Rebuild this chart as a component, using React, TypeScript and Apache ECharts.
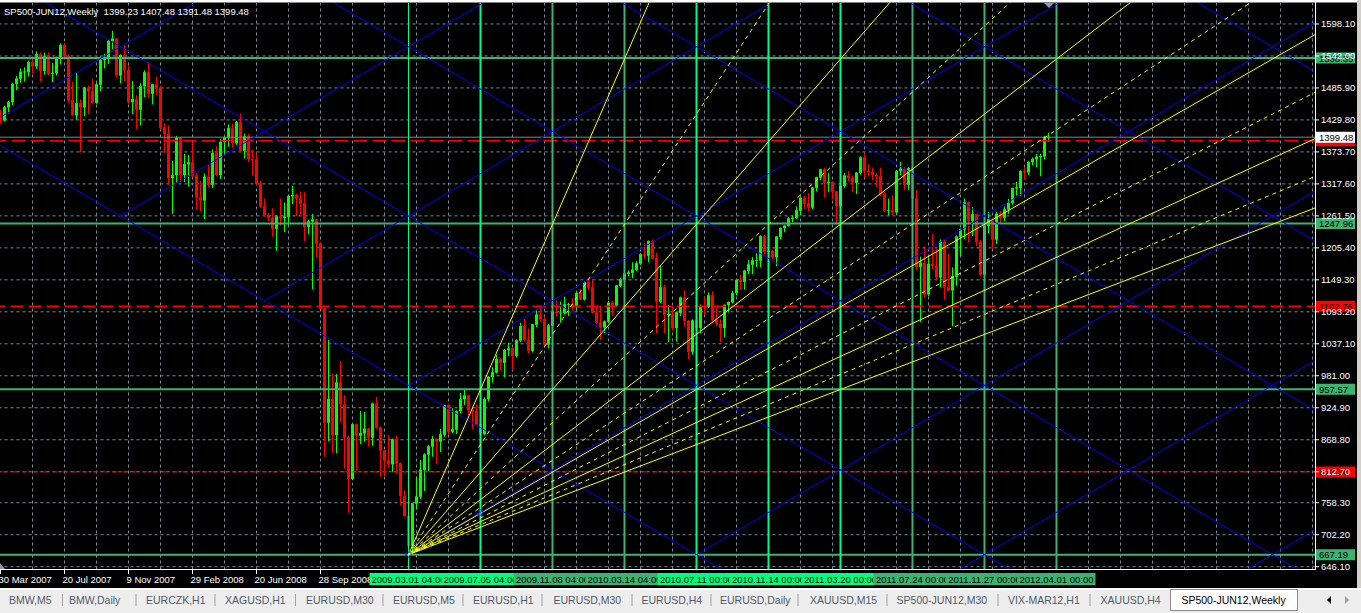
import React, { useEffect, useRef } from "react";
import * as echarts from "echarts";

// ---------- DATA (weekly bars, SP500 futures) ----------
const firstOpen = 1437;
const weeklyClose = [
  1429, 1452, 1461, 1493, 1502, 1514, 1514, 1531, 1524, 1545,
  1516, 1541, 1511, 1512, 1539, 1561, 1542, 1464, 1438, 1459,
  1452, 1486, 1480, 1460, 1492, 1535, 1537, 1568, 1572, 1508,
  1543, 1517, 1461, 1466, 1448, 1489, 1513, 1476, 1492, 1486,
  1416, 1405, 1328, 1333, 1398, 1333, 1352, 1355, 1332, 1294,
  1289, 1330, 1316, 1371, 1333, 1391, 1399, 1415, 1389, 1426,
  1376, 1401, 1361, 1360, 1318, 1278, 1263, 1258, 1239, 1260,
  1258, 1260, 1296, 1298, 1292, 1283, 1242, 1252, 1255, 1213,
  1099, 899, 940, 877, 969, 931, 873, 800, 896, 876,
  880, 888, 873, 932, 890, 850, 832, 826, 869, 827,
  770, 735, 683, 757, 769, 816, 843, 857, 870, 866,
  878, 929, 883, 887, 919, 940, 946, 921, 919, 896,
  879, 940, 979, 987, 1010, 1004, 1026, 1029, 1016, 1043,
  1068, 1044, 1025, 1071, 1088, 1080, 1036, 1069, 1093, 1091,
  1091, 1106, 1106, 1102, 1126, 1115, 1145, 1136, 1092, 1074,
  1066, 1076, 1109, 1104, 1139, 1150, 1160, 1162, 1167, 1178,
  1194, 1192, 1217, 1187, 1111, 1136, 1088, 1089, 1065, 1092,
  1118, 1077, 1023, 1078, 1065, 1103, 1102, 1122, 1079, 1072,
  1065, 1105, 1110, 1126, 1149, 1146, 1165, 1176, 1183, 1183,
  1226, 1199, 1200, 1189, 1225, 1240, 1244, 1257, 1258, 1271,
  1293, 1283, 1276, 1311, 1329, 1343, 1320, 1321, 1304, 1279,
  1314, 1332, 1328, 1320, 1337, 1364, 1340, 1338, 1333, 1331,
  1300, 1271, 1271, 1268, 1340, 1344, 1316, 1345, 1292, 1172,
  1179, 1124, 1177, 1174, 1154, 1216, 1136, 1131, 1155, 1225,
  1238, 1285, 1253, 1264, 1216, 1159, 1244, 1255, 1220, 1265,
  1258, 1273, 1284, 1310, 1311, 1340, 1338, 1356, 1361, 1365,
  1366, 1399.23, 1399.48,
];
const weeklyHigh = [
  1447, 1455, 1463, 1495, 1507, 1520, 1522, 1534, 1540, 1550,
  1548, 1548, 1548, 1530, 1541, 1564, 1565, 1545, 1496, 1512,
  1466, 1488, 1490, 1502, 1495, 1541, 1546, 1570, 1586, 1574,
  1545, 1561, 1525, 1498, 1473, 1494, 1517, 1531, 1493, 1506,
  1490, 1424, 1420, 1358, 1402, 1400, 1370, 1368, 1391, 1336,
  1323, 1336, 1352, 1378, 1383, 1396, 1402, 1422, 1423, 1428,
  1441, 1406, 1405, 1378, 1371, 1323, 1292, 1266, 1275, 1263,
  1292, 1285, 1298, 1314, 1300, 1304, 1303, 1255, 1265, 1256,
  1215, 1100, 1044, 985, 984, 1007, 947, 876, 897, 897,
  919, 918, 890, 934, 944, 892, 852, 877, 871, 876,
  829, 780, 737, 758, 804, 833, 845, 860, 875, 871,
  888, 930, 931, 924, 920, 951, 956, 948, 925, 931,
  898, 943, 980, 996, 1018, 1013, 1028, 1039, 1031, 1045,
  1074, 1081, 1064, 1072, 1097, 1101, 1085, 1072, 1101, 1113,
  1111, 1120, 1109, 1117, 1128, 1133, 1147, 1150, 1150, 1103,
  1104, 1078, 1112, 1113, 1140, 1153, 1170, 1166, 1180, 1182,
  1196, 1214, 1218, 1220, 1197, 1174, 1141, 1105, 1105, 1093,
  1120, 1131, 1079, 1080, 1099, 1106, 1120, 1127, 1129, 1100,
  1080, 1106, 1111, 1130, 1150, 1158, 1167, 1184, 1189, 1196,
  1227, 1228, 1205, 1202, 1226, 1241, 1246, 1259, 1262, 1278,
  1294, 1297, 1301, 1312, 1330, 1344, 1346, 1337, 1323, 1305,
  1315, 1337, 1340, 1332, 1338, 1366, 1371, 1352, 1346, 1336,
  1346, 1303, 1292, 1298, 1342, 1356, 1347, 1347, 1347, 1307,
  1190, 1208, 1190, 1230, 1204, 1220, 1220, 1195, 1171, 1227,
  1239, 1292, 1287, 1277, 1265, 1219, 1255, 1268, 1258, 1268,
  1270, 1278, 1291, 1311, 1321, 1341, 1347, 1357, 1364, 1370,
  1370, 1402, 1407.48,
];
const weeklyLow = [
  1424, 1427, 1441, 1456, 1482, 1495, 1497, 1506, 1512, 1519,
  1498, 1509, 1508, 1496, 1508, 1527, 1538, 1460, 1437, 1430,
  1373, 1436, 1440, 1458, 1458, 1480, 1520, 1528, 1554, 1505,
  1494, 1497, 1458, 1440, 1414, 1420, 1470, 1469, 1457, 1474,
  1413, 1372, 1316, 1265, 1320, 1321, 1321, 1313, 1329, 1273,
  1269, 1256, 1311, 1310, 1331, 1326, 1370, 1383, 1381, 1386,
  1373, 1362, 1356, 1332, 1316, 1275, 1260, 1252, 1225, 1200,
  1244, 1233, 1246, 1282, 1261, 1262, 1217, 1229, 1133, 1188,
  1098, 839, 866, 846, 845, 899, 818, 741, 798, 815,
  861, 866, 857, 858, 888, 804, 805, 820, 812, 809,
  754, 734, 667.19, 672, 747, 765, 779, 814, 839, 826,
  847, 874, 878, 880, 879, 915, 930, 912, 888, 895,
  869, 876, 936, 969, 985, 990, 978, 1016, 991, 1013,
  1040, 1041, 1020, 1022, 1066, 1075, 1030, 1029, 1067, 1085,
  1074, 1088, 1086, 1095, 1097, 1114, 1113, 1131, 1090, 1071,
  1044, 1056, 1074, 1086, 1102, 1136, 1146, 1155, 1152, 1165,
  1175, 1186, 1180, 1186, 1056, 1108, 1056, 1040, 1060, 1041,
  1086, 1067, 1010, 1018, 1063, 1056, 1088, 1100, 1076, 1069,
  1040, 1048, 1092, 1108, 1122, 1131, 1132, 1159, 1159, 1172,
  1171, 1194, 1173, 1185, 1173, 1220, 1233, 1243, 1250, 1256,
  1263, 1274, 1270, 1273, 1304, 1324, 1294, 1303, 1291, 1249,
  1277, 1311, 1322, 1303, 1300, 1334, 1329, 1331, 1324, 1311,
  1296, 1268, 1262, 1263, 1265, 1333, 1307, 1307, 1282, 1166,
  1075, 1118, 1121, 1168, 1150, 1136, 1114, 1129, 1068, 1139,
  1191, 1221, 1215, 1226, 1209, 1155, 1154, 1231, 1204, 1212,
  1248, 1252, 1265, 1281, 1297, 1296, 1325, 1333, 1350, 1347,
  1331, 1360, 1391.48,
];

const priceTicks = [
  1598.1, 1542.0, 1485.9, 1429.8, 1373.7, 1317.6, 1261.5, 1205.4, 1149.3,
  1093.2, 1037.1, 981.0, 924.9, 868.8, 812.7, 758.3, 702.2, 646.1,
];
const timeTickLabels = ["30 Mar 2007", "20 Jul 2007", "9 Nov 2007", "29 Feb 2008", "20 Jun 2008", "28 Sep 2008"];
const timeTickBars = [0, 16, 32, 48, 64, 80];

const vLineTimes = [
  "2009.03.01 04:00", "2009.07.05 04:00", "2009.11.08 04:00", "2010.03.14 04:00", "2010.07.11 00:00",
  "2010.11.14 00:00", "2011.03.20 00:00", "2011.07.24 00:00", "2011.11.27 00:00", "2012.04.01 00:00",
];
const vLineBars = [102, 120, 138, 156, 174, 192, 210, 228, 246, 264];
const vLineBright = [true, true, false, false, true, true, true, false, false, false];

const greenLevels = [1538.35, 1247.96, 957.57, 667.19];
const redLevels = [1393.15, 1102.76, 812.38];
const redLabelShown = [false, true, true];
const lastPrice = 1399.48;
const headerText = "SP500-JUN12,Weekly  1399.23 1407.48 1391.48 1399.48";

const fanOrigin = [102, 667.19];
const fanUnitSlope = 16.1; // price per bar of steepest ray
const fanDivisors = [1, 1.5, 2, 2.5, 3, 3.5, 4, 4.5, 5, 5.5, 6];

const gannOrigin = [102, 667.19];
const gannStepBars = 36;
const gannStepPrice = 148.5;
const gannAnchors = [[102, 667.19], [120, 741.44]];

const tabNames = [
  "BMW,M5", "BMW,Daily", "EURCZK,H1", "XAGUSD,H1", "EURUSD,M30", "EURUSD,M5", "EURUSD,H1",
  "EURUSD,M30", "EURUSD,H4", "EURUSD,Daily", "XAUUSD,M15", "SP500-JUN12,M30", "VIX-MAR12,H1",
  "XAUUSD,H4", "SP500-JUN12,Weekly",
];

// ---------- LAYOUT ----------
const Y_MIN = 641.19;
const Y_MAX = 1634.87;
const N_SLOTS = 329;
const tabTextX = [9, 69, 146, 225, 306, 393, 473, 553.5, 641.5, 720, 810, 896.6, 1008, 1100.6, 1181.4];
const tabSepX = [62.5, 136, 215, 295.5, 383, 463, 542, 632, 711, 798, 887, 998, 1090];
const FONT = '"Liberation Sans", Arial, sans-serif';
const GRID_COLOR = "#778899";
const BRIGHT = "#00FF7F";
const SEA = "#3CB371";
const AXIS_FONT = 9.5;

function seg(data: number[][], color: string, width: number, type: any, z: number) {
  return {
    type: "line",
    xAxisIndex: 1,
    yAxisIndex: 0,
    data,
    symbol: "none",
    silent: true,
    z,
    clip: true,
    animation: false,
    lineStyle: { color, width, type },
    emphasis: { disabled: true },
  };
}

function txt(x: number, y: number, text: string, fill: string, size: number, align: string, z: number) {
  return {
    type: "text",
    x,
    y,
    z,
    silent: true,
    style: {
      text,
      fill,
      font: `${size}px ${FONT}`,
      textAlign: align,
      align,
      textVerticalAlign: "middle",
      verticalAlign: "middle",
    },
  };
}

export default function App() {
  const ref = useRef<HTMLDivElement>(null);

  useEffect(() => {
    const chart = echarts.init(ref.current as HTMLDivElement, null, { renderer: "svg" });

    const candles = weeklyClose.map((c, i) => [
      i === 0 ? firstOpen : weeklyClose[i - 1],
      c,
      weeklyLow[i],
      weeklyHigh[i],
    ]);
    const slots = Array.from({ length: N_SLOTS }, (_, i) => String(i));

    const S: any[] = [];
    // chart grid (dashed)
    for (let b = 8; b < N_SLOTS; b += 8) S.push(seg([[b, Y_MIN], [b, Y_MAX]], GRID_COLOR, 1, [3, 3], 1));
    priceTicks.forEach((v) => S.push(seg([[-2, v], [N_SLOTS + 2, v]], GRID_COLOR, 1, [3, 3], 1)));

    // candles
    S.push({
      type: "candlestick",
      xAxisIndex: 0,
      yAxisIndex: 0,
      data: candles,
      barWidth: 2,
      silent: true,
      z: 2,
      animation: false,
      itemStyle: {
        color: "#00FF00",
        color0: "#FF0000",
        borderColor: "#00FF00",
        borderColor0: "#FF0000",
        borderColorDoji: "#00FF00",
        borderWidth: 1,
      },
    });

    // horizontal objects
    greenLevels.forEach((v) => S.push(seg([[-2, v], [N_SLOTS + 2, v]], SEA, 2, "solid", 3)));
    const redW = [1.6, 1.6, 1];
    const redT: any[] = [[14, 5], [13, 5], [5, 2, 1, 2]];
    redLevels.forEach((v, i) => S.push(seg([[-2, v], [N_SLOTS + 2, v]], "#FF0000", redW[i], redT[i], 3)));
    S.push(seg([[-2, lastPrice], [N_SLOTS + 2, lastPrice]], GRID_COLOR, 1, "solid", 3));

    // vertical lines
    vLineBars.forEach((b, k) =>
      S.push(seg([[b, Y_MIN], [b, Y_MAX]], vLineBright[k] ? BRIGHT : SEA, k === 0 ? 1 : 2, "solid", 4))
    );

    // Gann grid (blue)
    const sl = gannStepPrice / gannStepBars;
    const [gb, gp] = gannOrigin;
    for (let k = -3; k <= 4; k++) {
      const t0 = k === 0 ? 0 : gannStepBars * (1 - k);
      const t1 = 420;
      S.push(
        seg(
          [
            [gb + t0, gp + sl * t0 + 2 * gannStepPrice * k],
            [gb + t1, gp + sl * t1 + 2 * gannStepPrice * k],
          ],
          "#0000FF",
          1,
          "solid",
          5
        )
      );
    }
    for (let j = 0; j <= 5; j++) {
      const base = gp + 2 * gannStepPrice * (j + 1);
      S.push(seg([[gb - 300, base + sl * 300], [gb + 420, base - sl * 420]], "#0000FF", 1, "solid", 5));
    }

    // Gann fan (yellow)
    const [fb, fp] = fanOrigin;
    fanDivisors.forEach((d) => {
      const slope = fanUnitSlope / d;
      const t1 = 420;
      S.push(
        seg([[fb, fp], [fb + t1, fp + slope * t1]], "#FFFF00", 1, Number.isInteger(d) ? "solid" : [4, 4], 6)
      );
    });

    S.push({
      type: "scatter",
      xAxisIndex: 1,
      yAxisIndex: 0,
      data: gannAnchors,
      symbol: "rect",
      symbolSize: 5,
      silent: true,
      z: 7,
      animation: false,
      itemStyle: { color: "rgba(0,0,0,0)", borderColor: "#0000FF", borderWidth: 1 },
    });

    chart.setOption({
      animation: false,
      backgroundColor: "#000000",
      grid: { left: -1.5, top: 3, width: 1316, height: 566.5, outerBoundsMode: "none" },
      xAxis: [
        { type: "category", data: slots, boundaryGap: true, show: false },
        { type: "value", min: -0.5, max: N_SLOTS - 0.5, show: false },
      ],
      yAxis: { type: "value", min: Y_MIN, max: Y_MAX, show: false },
      series: S,
    });

    const yPx = (v: number) => chart.convertToPixel({ yAxisIndex: 0 } as any, v) as number;
    const xPx = (b: number) => chart.convertToPixel({ xAxisIndex: 1 } as any, b) as number;

    const g: any[] = [];
    // frame
    g.push({ type: "rect", shape: { x: 0, y: 0, width: 1358, height: 2.5 }, style: { fill: "#FFFFFF" }, z: 20, silent: true });
    g.push({ type: "line", shape: { x1: 1315.5, y1: 2, x2: 1315.5, y2: 570 }, style: { stroke: "#FFFFFF", lineWidth: 1 }, z: 20, silent: true });
    g.push({ type: "line", shape: { x1: 0, y1: 569.5, x2: 1316, y2: 569.5 }, style: { stroke: "#FFFFFF", lineWidth: 1 }, z: 20, silent: true });
    g.push({ type: "rect", shape: { x: 1357, y: 0, width: 4, height: 589 }, style: { fill: "#D4D0C8" }, z: 20, silent: true });

    // header
    g.push(txt(4, 11.5, headerText, "#FFFFFF", 9.5, "left", 25));

    // chart shift markers
    g.push({ type: "polygon", shape: { points: [[1044, 3], [1054, 3], [1049, 8]] }, style: { fill: "#8C9AAC" }, z: 21, silent: true });
    g.push({ type: "polygon", shape: { points: [[0, 563], [0, 569], [5, 569]] }, style: { fill: "#8C9AAC" }, z: 21, silent: true });

    // time axis
    timeTickBars.forEach((b, i) => {
      const x = xPx(b);
      g.push({ type: "line", shape: { x1: x, y1: 570, x2: x, y2: 574 }, style: { stroke: "#FFFFFF", lineWidth: 1 }, z: 22, silent: true });
      g.push(txt(x - 2, 579, timeTickLabels[i], "#FFFFFF", 9.5, "left", 22));
    });
    vLineBars.forEach((b, k) => {
      const x = xPx(b);
      g.push({
        type: "rect",
        shape: { x: x - 39, y: 573, width: 78, height: 12 },
        style: { fill: vLineBright[k] ? BRIGHT : SEA },
        z: 30 + 2 * k,
        silent: true,
      });
      g.push(txt(x, 579, vLineTimes[k], "#000000", 9.5, "center", 31 + 2 * k));
    });

    // price axis object labels
    greenLevels.forEach((v) => {
      const y = yPx(v);
      g.push({ type: "rect", shape: { x: 1316, y: y - 5.5, width: 39, height: 11 }, style: { fill: SEA }, z: 40, silent: true });
      g.push(txt(1319, y, v.toFixed(2), "#000000", AXIS_FONT, "left", 41));
    });
    redLevels.forEach((v, i) => {
      const y = yPx(v);
      g.push({ type: "rect", shape: { x: 1316, y: y - 5.5, width: 39, height: 11 }, style: { fill: "#FF0000" }, z: 40, silent: true });
      if (redLabelShown[i]) g.push(txt(1319, y, v.toFixed(2), "#000000", AXIS_FONT, "left", 41));
    });
    // grid labels
    priceTicks.forEach((v) => {
      const y = yPx(v);
      g.push({ type: "line", shape: { x1: 1316, y1: y, x2: 1319, y2: y }, style: { stroke: "#FFFFFF", lineWidth: 1 }, z: 50, silent: true });
      g.push(txt(1321, y, v.toFixed(2), "#FFFFFF", AXIS_FONT, "left", 51));
    });
    // current price
    {
      const y = yPx(lastPrice);
      g.push({ type: "rect", shape: { x: 1316, y: y - 5.5, width: 39, height: 11 }, style: { fill: "#FFFFFF" }, z: 60, silent: true });
      g.push(txt(1319, y, lastPrice.toFixed(2), "#000000", AXIS_FONT, "left", 61));
    }

    // tab strip
    g.push({ type: "rect", shape: { x: 0, y: 588, width: 1361, height: 2 }, style: { fill: "#FFFFFF" }, z: 70, silent: true });
    g.push({ type: "rect", shape: { x: 0, y: 590, width: 1361, height: 23 }, style: { fill: "#EDEDED" }, z: 70, silent: true });
    g.push({
      type: "rect",
      shape: { x: 1170.5, y: 589.5, width: 127, height: 21 },
      style: { fill: "#FFFFFF", stroke: "#8A8A8A", lineWidth: 1 },
      z: 71,
      silent: true,
    });
    tabSepX.forEach((x) =>
      g.push({ type: "line", shape: { x1: x, y1: 594, x2: x, y2: 606 }, style: { stroke: "#A0A0A0", lineWidth: 1 }, z: 72, silent: true })
    );
    tabNames.forEach((name, i) => {
      const active = i === tabNames.length - 1;
      g.push(txt(tabTextX[i], 600, name, active ? "#000000" : "#505A66", 10.5, "left", 73));
    });
    g.push({ type: "polygon", shape: { points: [[1331, 596], [1331, 604], [1327, 600]] }, style: { fill: "#000000" }, z: 73, silent: true });
    g.push({ type: "polygon", shape: { points: [[1345, 596], [1345, 604], [1349, 600]] }, style: { fill: "#A0A0A0" }, z: 73, silent: true });

    chart.setOption({ graphic: g });

    return () => chart.dispose();
  }, []);

  return (
    <div
      ref={ref}
      style={{ position: "fixed", left: 0, top: 0, width: 1361, height: 613, background: "#000" }}
    />
  );
}
